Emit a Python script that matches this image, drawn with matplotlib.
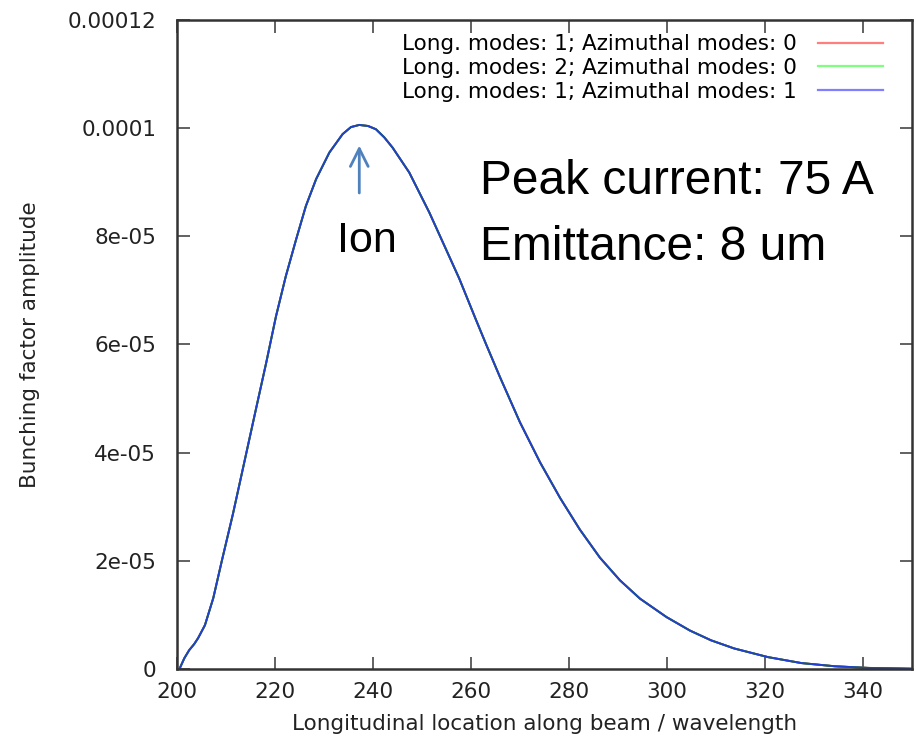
import matplotlib
matplotlib.use('Agg')
from matplotlib import pyplot as plt
from matplotlib.lines import Line2D
from matplotlib.ticker import MultipleLocator

plt.rcParams['font.family'] = ['DejaVu Sans']

# values (y in units of 1e-6)
location = [200.5, 201.5, 202.5, 203.5, 204.3, 205.7, 207.4, 209.2, 211.4, 213.8,
            216.1, 218.2, 220.2, 222.2, 224.3, 226.3, 228.4, 231.1, 233.8, 235.5,
            237.2, 239.0, 240.6, 242.3, 244.0, 247.4, 251.5, 254.2, 257.6, 261.0,
            263.1, 265.9, 270.0, 274.1, 278.2, 282.2, 286.3, 290.4, 294.5, 299.9,
            304.7, 309.0, 313.7, 320.6, 327.4, 334.3, 341.1, 350.0]
bunching_e6 = [0.0, 2.0, 3.5, 4.6, 5.7, 8.1, 13.1, 20.2, 28.6, 38.5,
               48.0, 56.6, 65.2, 72.6, 79.4, 85.6, 90.6, 95.5, 98.9, 100.2,
               100.6, 100.4, 99.8, 98.3, 96.4, 91.8, 84.4, 79.0, 72.2, 64.6,
               60.0, 54.0, 45.6, 38.2, 31.6, 25.8, 20.6, 16.4, 13.0, 9.6,
               7.1, 5.3, 3.8, 2.2, 1.1, 0.5, 0.2, 0.05]
bunching = [v * 1e-6 for v in bunching_e6]

series_labels = ["Long. modes: 1; Azimuthal modes: 0",
                 "Long. modes: 2; Azimuthal modes: 0",
                 "Long. modes: 1; Azimuthal modes: 1"]
series_colors = ['#ff0000', '#00c000', '#2040d0']
legend_colors = ['#ff7f7f', '#7fff7f', '#7f7fff']
y_ticks = [0, 2e-5, 4e-5, 6e-5, 8e-5, 1e-4, 1.2e-4]
y_tick_labels = ['0', '2e-05', '4e-05', '6e-05', '8e-05', '0.0001', '0.00012']

fig = plt.figure(figsize=(9.16, 7.41), dpi=100)
ax = fig.add_axes([177 / 916, 72 / 741, 735 / 916, 649 / 741])

# the three runs lie on top of each other
for lab, col in zip(series_labels, series_colors):
    ax.plot(location, bunching, color=col, linewidth=1.4)

ax.set_xlim(200, 350)
ax.set_ylim(0, 0.00012)
ax.xaxis.set_major_locator(MultipleLocator(20))
ax.set_yticks(y_ticks)
ax.set_yticklabels(y_tick_labels)
ax.tick_params(direction='in', length=9, width=1.3, color='#555555',
               top=True, right=True, labelsize=15.5, labelcolor='#222222')
ax.tick_params(axis='x', pad=9)
ax.tick_params(axis='y', pad=15)
for s in ax.spines.values():
    s.set_linewidth(1.8)
    s.set_color('#333333')

ax.set_xlabel('Longitudinal location along beam / wavelength', fontsize=15.5,
              color='#222222', labelpad=9)
ax.set_ylabel('Bunching factor amplitude', fontsize=15.5, color='#222222', labelpad=20)

handles = [Line2D([], [], color=c, linewidth=1.6) for c in legend_colors]
ax.legend(handles, series_labels, loc='upper right', bbox_to_anchor=(0.9605, 0.978),
          frameon=False, markerfirst=False, fontsize=15.5, handlelength=3.0,
          handletextpad=1.0, labelspacing=0.17, borderaxespad=0, borderpad=0)

# annotation for the peak
ax.annotate('', xy=(237.2, 97.3e-6), xytext=(237.2, 87.5e-6),
            arrowprops=dict(arrowstyle='->', color='#4f81bd', lw=2.0, mutation_scale=32))
ax.text(238.8, 79.2e-6, 'Ion', fontsize=31, ha='center', va='center',
        family='Liberation Sans')
ax.text(261.8, 87.8e-6, 'Peak current: 75 A', fontsize=34.5, ha='left', va='baseline',
        family='Liberation Sans')
ax.text(261.8, 75.7e-6, 'Emittance: 8 um', fontsize=34.5, ha='left', va='baseline',
        family='Liberation Sans')

fig.savefig('out.png', dpi=100)
